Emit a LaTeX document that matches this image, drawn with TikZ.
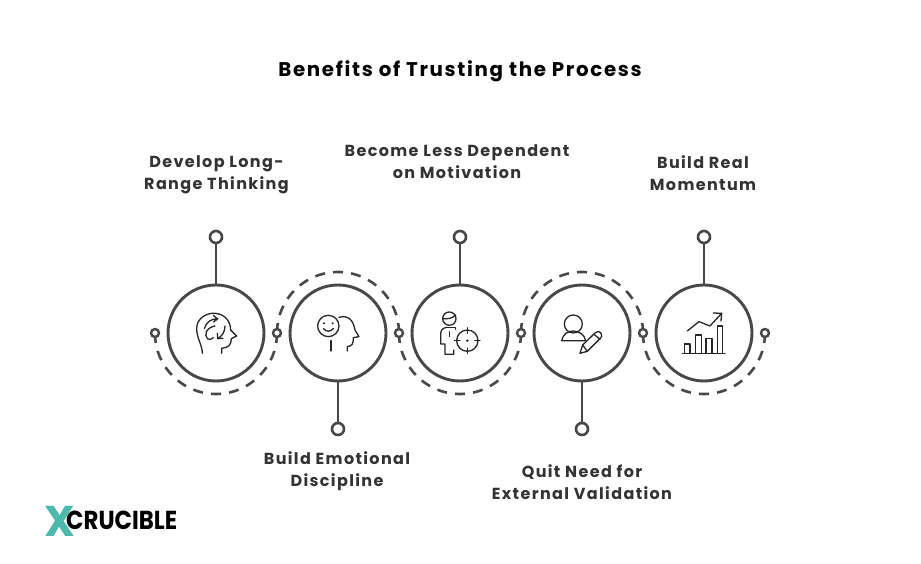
\documentclass[tikz,border=0pt]{standalone}
\usepackage{fontspec}
\setmainfont{Poppins}[LetterSpace=8.5]
\usetikzlibrary{arrows.meta}
\definecolor{ink}{HTML}{484848}
\definecolor{lab}{HTML}{333333}
\definecolor{teal}{HTML}{4DB8AC}
\tikzset{
  mainc/.style={circle,draw=ink,line width=2.9pt,minimum size=96pt,inner sep=0pt,outer sep=0pt,fill=white},
  pinc/.style={circle,draw=ink,line width=2.6pt,minimum size=12pt,inner sep=0pt,outer sep=0pt,fill=white},
  dotc/.style={circle,draw=ink,line width=2.4pt,minimum size=8pt,inner sep=0pt,outer sep=0pt,fill=white},
  stem/.style={draw=ink,line width=2.8pt},
  dasharc/.style={draw=ink,line width=2.6pt,dash pattern=on 10pt off 8.16pt},
  ico/.style={draw=black!85,line width=1.3pt,line cap=round,line join=round},
  lbl/.style={font=\bfseries\fontsize{16}{22}\selectfont,text=lab,align=center,inner sep=0pt},
  ttl/.style={font=\bfseries\fontsize{19.8}{22}\selectfont,text=black,inner sep=0pt},
  zoomA/.style={x=0.3333pt,y=-0.3333pt}
}
\begin{document}
\begin{tikzpicture}[x=1pt,y=1pt]
\useasboundingbox (0,0) rectangle (921,563);
\fill[white] (0,0) rectangle (921,563);
\node[ttl] (title) at (460,491.5) {Benefits of Trusting the Process};
\foreach \n/\x in {d0/155,d1/277,d2/399,d3/521,d4/643,d5/765}{
  \coordinate (\n c) at (\x,230);
}
% dashed arcs
\draw[dasharc] (d0c) arc[start angle=180,end angle=360,radius=61];
\draw[dasharc] (d1c) arc[start angle=180,end angle=0,radius=61];
\draw[dasharc] (d2c) arc[start angle=180,end angle=360,radius=61];
\draw[dasharc] (d3c) arc[start angle=180,end angle=0,radius=61];
\draw[dasharc] (d4c) arc[start angle=180,end angle=360,radius=61];
% main circles
\node[mainc] (m1) at (216,230) {};
\node[mainc] (m2) at (338,230) {};
\node[mainc] (m3) at (460,230) {};
\node[mainc] (m4) at (582,230) {};
\node[mainc] (m5) at (704,230) {};
\foreach \n/\x in {d0/155,d1/277,d2/399,d3/521,d4/643,d5/765}{
  \node[dotc] (\n) at (\x,230) {};
}
% pins
\node[pinc] (p1) at (216,326) {};
\node[pinc] (p2) at (338,134) {};
\node[pinc] (p3) at (460,326) {};
\node[pinc] (p4) at (582,134) {};
\node[pinc] (p5) at (704,326) {};
\draw[stem] (p1) -- (m1);
\draw[stem] (p2) -- (m2);
\draw[stem] (p3) -- (m3);
\draw[stem] (p4) -- (m4);
\draw[stem] (p5) -- (m5);
% labels
\node[lbl] (l1) at (216.5,388) {Develop Long-\\Range Thinking};
\node[lbl] (l2) at (337,91.5) {Build Emotional\\Discipline};
\node[lbl] (l3) at (457,401.5) {Become Less Dependent\\on Motivation};
\node[lbl] (l4) at (582,80.5) {Quit Need for\\External Validation};
\node[lbl] (l5) at (703,390) {Build Real\\Momentum};
% icon 1
\begin{scope}[shift={(165,263)},zoomA]
\draw[ico] (112,160) .. controls (112,135) and (95,115) .. (95,85) .. controls (95,55) and (125,38) .. (150,40) .. controls (180,42) and (197,65) .. (197,90) -- (215,108) -- (199,116) .. controls (199,135) and (190,143) .. (170,145) -- (170,160);
\draw[ico] (118,85) .. controls (125,65) and (140,55) .. (158,57) (146,47) -- (158,57) -- (145,66);
\draw[ico] (180,78) .. controls (180,95) and (172,108) .. (158,116) (157,100) -- (158,116) -- (174,115);
\draw[ico] (150,78) .. controls (125,82) and (115,105) .. (128,117) .. controls (133,120) and (140,118) .. (145,113);
\end{scope}
% icon 2
\begin{scope}[shift={(140,343)},zoomA]
\draw[ico] (565,318) circle[radius=32];
\fill[black!85] (552,310) circle[radius=3.5] (578,310) circle[radius=3.5];
\draw[ico] (551,326) .. controls (558,336) and (572,336) .. (580,326);
\draw[ico] (597,292) .. controls (630,282) and (642,310) .. (645,330) -- (657,350) -- (640,353) .. controls (640,370) and (638,378) .. (622,380) -- (622,393);
\draw[ico] (573,362) -- (573,393);
\end{scope}
% icon 3
\begin{scope}[shift={(390,343)},zoomA]
\draw[ico] (178,296) circle[radius=20];
\draw[ico] (158,296) .. controls (172,298) and (188,295) .. (197,285);
\draw[ico] (170,322) .. controls (155,325) and (152,332) .. (152,345) -- (152,372) -- (165,372) -- (165,403) -- (191,403) -- (191,390);
\draw[ico] (170,322) -- (197,322) -- (197,328);
\draw[ico] (178,335) -- (178,350);
\draw[ico] (232,362) circle[radius=32];
\draw[ico] (232,323) -- (232,340) (232,384) -- (232,401) (193,362) -- (210,362) (254,362) -- (270,362);
\fill[black!85] (232,362) circle[radius=4];
\end{scope}
% icon 4
\begin{scope}[shift={(390,343)},zoomA]
\draw[ico] (550,312) circle[radius=27];
\draw[ico] (515,362) .. controls (518,342) and (535,333) .. (550,333) .. controls (568,333) and (584,345) .. (587,362) -- cycle;
\draw[ico] (570,400) -- (578,375) -- (616,338) .. controls (622,332) and (630,334) .. (634,342) .. controls (637,348) and (635,352) .. (630,356) -- (592,394) -- cycle;
\draw[ico] (578,375) -- (592,394);
\draw[ico] (612,343) -- (630,358);
\end{scope}
% icon 5
\begin{scope}[shift={(630,343)},zoomA]
\draw[ico] (157,400) -- (285,400);
\draw[ico] (163,400) -- (163,372) -- (180,372) -- (180,400);
\draw[ico] (196,400) -- (196,345) -- (214,345) -- (214,400);
\draw[ico] (228,400) -- (228,355) -- (246,355) -- (246,400);
\draw[ico] (262,400) -- (262,318) -- (278,318) -- (278,400);
\draw[ico] (172,333) -- (207,305) -- (240,318) -- (275,280);
\draw[ico] (250,279) -- (275,280) -- (273,303);
\end{scope}
% logo
\node[font=\addfontfeature{LetterSpace=0}\bfseries\fontsize{43}{43}\selectfont,text=teal,inner sep=0pt] (lx) at (60,42) {X};
\node[font=\addfontfeature{LetterSpace=0}\bfseries\fontsize{26}{26}\selectfont,text=black,inner sep=0pt,anchor=west,xscale=0.88] (lc) at (66,43) {CRUCIBLE};
\end{tikzpicture}
\end{document}
